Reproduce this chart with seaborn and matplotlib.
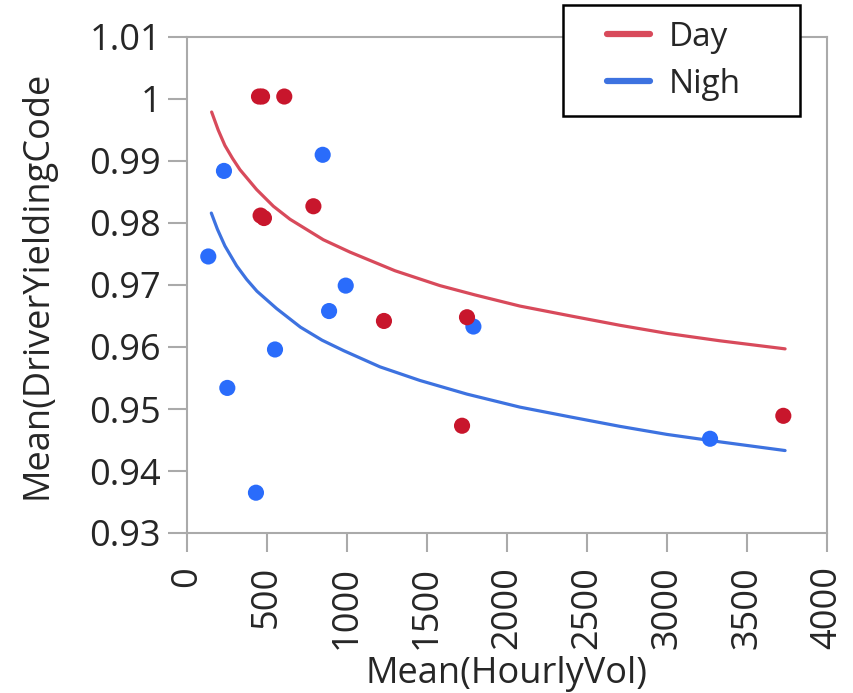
import numpy as np
import pandas as pd
import matplotlib.pyplot as plt
import seaborn as sns
from matplotlib.patches import Rectangle

# mean values per site
day_vol = [450, 469, 608, 460, 481, 790, 1231, 1750, 1719, 3727]
day_yield = [1.0004, 1.0004, 1.0004, 0.9812, 0.9808, 0.9827, 0.9642, 0.9648, 0.9473, 0.9489]
nigh_vol = [133, 231, 252, 431, 550, 848, 888, 992, 1790, 3269]
nigh_yield = [0.9746, 0.9884, 0.9534, 0.9365, 0.9596, 0.9910, 0.9658, 0.9699, 0.9633, 0.9452]

# fitted curves, sampled off the chart
day_fit_vol = [154, 195, 237, 285, 331, 435, 540, 644, 852, 1019, 1300, 1581, 1800,
               2081, 2400, 2706, 3000, 3331, 3738]
day_fit_yield = [0.9979, 0.9950, 0.9925, 0.9904, 0.9886, 0.9854, 0.9827, 0.9806, 0.9773,
                 0.9753, 0.9723, 0.9699, 0.9684, 0.9666, 0.9650, 0.9635, 0.9622, 0.9610,
                 0.9597]
nigh_fit_vol = [152, 190, 237, 310, 373, 437, 560, 709, 844, 980, 1206, 1456, 1750,
                2081, 2400, 2706, 3000, 3331, 3738]
nigh_fit_yield = [0.9816, 0.9790, 0.9763, 0.9731, 0.9709, 0.9690, 0.9662, 0.9632, 0.9611,
                  0.9594, 0.9568, 0.9546, 0.9524, 0.9503, 0.9487, 0.9472, 0.9459, 0.9447,
                  0.9433]

x_ticks = [0, 500, 1000, 1500, 2000, 2500, 3000, 3500, 4000]
y_ticks = [0.93, 0.94, 0.95, 0.96, 0.97, 0.98, 0.99, 1.00, 1.01]
groups = ['Day', 'Nigh']

pts = pd.DataFrame({'vol': nigh_vol + day_vol,
                    'yield': nigh_yield + day_yield,
                    'period': ['Nigh'] * len(nigh_vol) + ['Day'] * len(day_vol)})
fit = pd.DataFrame({'vol': day_fit_vol + nigh_fit_vol,
                    'yield': day_fit_yield + nigh_fit_yield,
                    'period': ['Day'] * len(day_fit_vol) + ['Nigh'] * len(nigh_fit_vol)})

sns.set_style('white')
plt.rcParams['font.family'] = ['Open Sans', 'DejaVu Sans']

fig, ax = plt.subplots(figsize=(8.54, 6.93), dpi=100)
fig.subplots_adjust(left=187/854, right=827/854, bottom=1-533/693, top=1-37/693)

line_pal = {'Day': '#d84a5b', 'Nigh': '#3d72e0'}
dot_pal = {'Day': '#c8162c', 'Nigh': '#2a6cfb'}

sns.lineplot(data=fit, x='vol', y='yield', hue='period', hue_order=groups,
             palette=line_pal, estimator=None, sort=True, linewidth=2.3, ax=ax)
handles, labels = ax.get_legend_handles_labels()
ax.get_legend().remove()
sns.scatterplot(data=pts, x='vol', y='yield', hue='period', palette=dot_pal,
                s=135, linewidth=0, legend=False, zorder=3, ax=ax)

ax.set_xlim(0, 4000)
ax.set_ylim(0.93, 1.01)
ax.set_xticks(x_ticks)
ax.set_yticks(y_ticks)
ax.set_xticklabels([str(v) for v in x_ticks], rotation=90)
ax.set_yticklabels([f'{round(v, 2):g}' for v in y_ticks])
ax.tick_params(axis='both', labelsize=26, length=13.7, width=1.5, color='#aaaaaa',
               direction='out', left=True, bottom=True)
ax.tick_params(axis='y', pad=5)
ax.tick_params(axis='x', pad=10)
for sp in ax.spines.values():
    sp.set_color('#aaaaaa')
    sp.set_linewidth(1.5)
ax.set_xlabel('Mean(HourlyVol)', fontsize=26, labelpad=5)
ax.set_ylabel('Mean(DriverYieldingCode', fontsize=26, labelpad=24)

box = Rectangle((563/854, 1-116/693), 237/854, 111/693, transform=fig.transFigure,
                facecolor='white', edgecolor='black', linewidth=1.8, zorder=4)
fig.patches.append(box)
for h in handles:
    h.set_linewidth(4.5)
fig.legend(handles, labels, loc='upper left', bbox_to_anchor=(607/854, 1-21/693),
           frameon=False, fontsize=24, handlelength=1.3, handletextpad=0.55,
           labelspacing=0.42, borderpad=0, borderaxespad=0)

plt.savefig('out.png', dpi=100)
